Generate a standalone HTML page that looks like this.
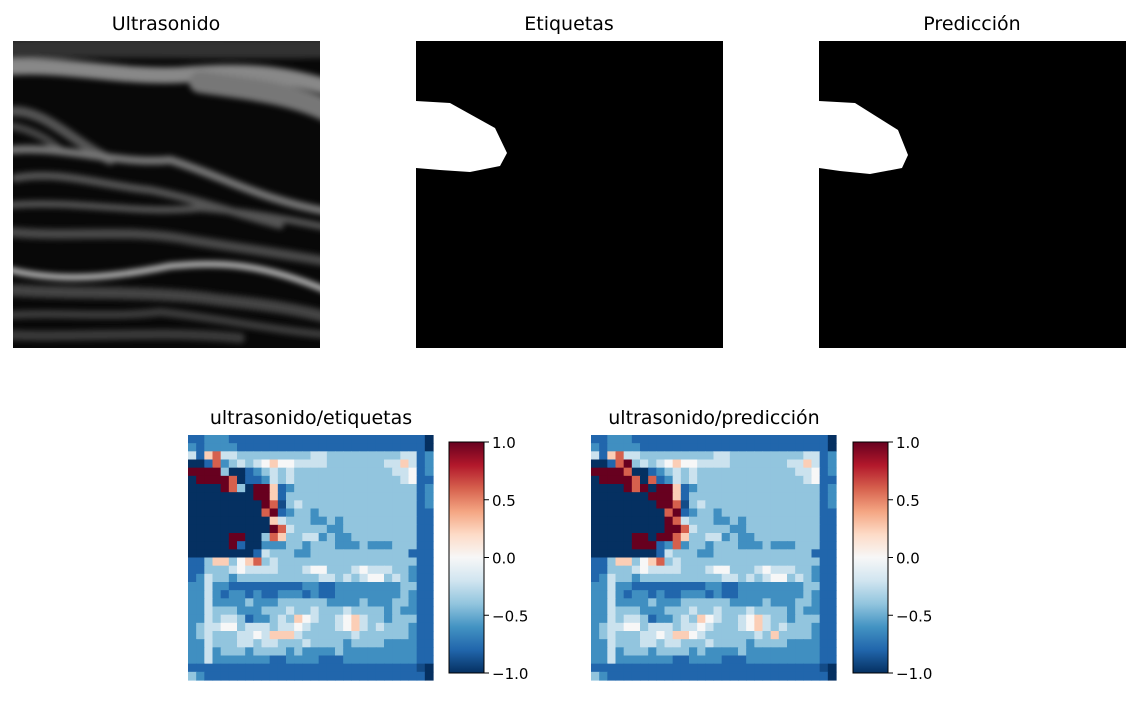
<!DOCTYPE html>
<html><head><meta charset="utf-8"><style>
body{margin:0;background:#fff;width:1139px;height:724px;overflow:hidden;font-family:"DejaVu Sans","Liberation Sans",sans-serif;}
svg{position:absolute;left:0;top:0}
</style></head><body>
<svg id="fig" width="1139" height="724" xmlns="http://www.w3.org/2000/svg">
<defs>
<filter id="blur" x="-10%" y="-10%" width="120%" height="120%"><feGaussianBlur stdDeviation="3"/></filter>
<clipPath id="usclip"><rect x="13" y="41" width="307" height="307"/></clipPath>
<linearGradient id="rdbu" x1="0" y1="1" x2="0" y2="0">
<stop offset="0" stop-color="#053061"/><stop offset="0.1" stop-color="#2166ac"/><stop offset="0.2" stop-color="#4393c3"/><stop offset="0.3" stop-color="#92c5de"/><stop offset="0.4" stop-color="#d1e5f0"/><stop offset="0.5" stop-color="#f7f7f7"/><stop offset="0.6" stop-color="#fddbc7"/><stop offset="0.7" stop-color="#f4a582"/><stop offset="0.8" stop-color="#d6604d"/><stop offset="0.9" stop-color="#b2182b"/><stop offset="1" stop-color="#67001f"/>
</linearGradient>
</defs>
<g>
<text x="166" y="30" font-size="19" text-anchor="middle">Ultrasonido</text>
<rect x="13" y="41" width="307" height="307" fill="#080808"/>
<g clip-path="url(#usclip)" filter="url(#blur)" fill="none" stroke-linecap="round">
<path d="M0 50 C80 45 200 50 330 48" stroke="#333" stroke-width="20"/>
<path d="M0 68 C60 62 120 78 180 75 C240 70 280 72 330 88" stroke="#888" stroke-width="16"/>
<path d="M200 82 C240 88 290 92 330 112" stroke="#777" stroke-width="22"/>
<path d="M5 112 C40 105 70 140 110 160" stroke="#555" stroke-width="10"/>
<path d="M5 125 C30 128 50 140 60 150" stroke="#444" stroke-width="8"/>
<path d="M10 150 C60 145 120 165 170 160 C220 175 260 200 330 212" stroke="#777" stroke-width="8"/>
<path d="M15 178 C60 170 100 185 150 190 C200 200 240 215 280 225" stroke="#555" stroke-width="8"/>
<path d="M10 205 C80 200 140 215 200 208 C250 212 290 220 330 228" stroke="#555" stroke-width="7"/>
<path d="M10 232 C70 238 130 228 190 240 C240 248 290 255 330 262" stroke="#4a4a4a" stroke-width="10"/>
<path d="M10 270 C60 282 110 278 170 266 C220 262 260 262 330 292" stroke="#bbb" stroke-width="6"/>
<path d="M10 290 C80 295 150 290 220 300 C270 305 300 310 330 318" stroke="#444" stroke-width="12"/>
<path d="M10 315 C60 312 110 318 160 312 C220 318 270 330 330 335" stroke="#3c3c3c" stroke-width="8"/>
<path d="M10 335 C80 338 160 330 240 338" stroke="#3a3a3a" stroke-width="10"/>
</g>
</g>
<g>
<text x="569" y="30" font-size="19" text-anchor="middle">Etiquetas</text>
<rect x="416" y="41" width="307" height="307" fill="#000"/>
<polygon points="416,101 450,103 495,128 507,153 500,166 470,172 440,170 416,168" fill="#fff"/>
</g>
<g>
<text x="972" y="30" font-size="19" text-anchor="middle">Predicción</text>
<rect x="819" y="41" width="307" height="307" fill="#000"/>
<polygon points="819,101 855,103 898,130 908,155 902,168 870,174 840,171 819,168" fill="#fff"/>
</g>
<text x="311" y="424" font-size="19" text-anchor="middle">ultrasonido/etiquetas</text>
<text x="714" y="424" font-size="19" text-anchor="middle">ultrasonido/predicción</text>
<g id="hm1"></g>
<g id="hm2"></g>
<g id="cb1"></g>
<g id="cb2"></g>
</svg>
<script>
const levelCodes = {D:-1,B:-0.9,b:-0.8,m:-0.62,l:-0.4,L:-0.22,w:0,p:0.25,r:0.6,R:1};
const gridEtiquetas = [
"bbmmmbbbbbbbbbbbbbbbbbbbbbbbbD",
"mbmmmmbbbbbbbbbbbbbbbbbbbbbbbD",
"LbprLLlllllllllLLlllllllllLLbm",
"DDbrmlLlLwpwwLLLLlllllllLLpLbm",
"RRRRlDDbmlLlLllllllllllllLLwbm",
"DRRRRrDbbmLlLlllllllllllllLwbb",
"DDDDRrlDRRpbmlllllllllllllllbm",
"DDDDDDDDRRpbllllllllllllllllbm",
"DDDDDDDDDRrBlLllllllllllllllbm",
"DDDDDDDDDrRbmllmllllllllllllbb",
"DDDDDDDDDDpLlllmmlmlllllllllbb",
"DDDDDDDDDDRrLllllmmlllllllllbb",
"DDDDDRRDDlrpllLLmlmmllllllllbb",
"DDDDDRbDDmmmllmlllmmmlmmmlllbb",
"DDDDDDDDbLlllmmllllllllllllbbb",
"bblpplwprlLlllllllllllllllllbb",
"bblllLwLLLLlllLwwlllLwLLLllmbb",
"bmLllmllllllllllLLlLlLwwlLlmbb",
"mmLmmbbbbbbbbbmmbbmmmmmmmmllbb",
"mmLmbmmbmbbmmmbmbbmmmmmmmmlmbb",
"mmLmmmmlmmmllllllmmmmlmmmllmbb",
"mmLlllmmmlllLllLlllLllllmlmmbb",
"mmLlLLlbmmlLlpwLllLwpLllmlllbb",
"mlLLwwlLLLlLLwLlllLwpLlLlllmbb",
"mlLlllLLwLpppLllllllLllllllmbb",
"mmLlllLLlLLlllLllllmllllmmmmbb",
"mmLmlllmllllmlmmmmlmmmmmmmmmbb",
"mmLmmmmmmmbbmmmmbbbmmmmmmmmmbb",
"bbbbbbbbbbbbbbbbbbbbbbbbbbbbBD",
"lmbbbbbbbbbbbbbbbbbbbbbbbbbbbD"];
const gridPrediccion = [
"bbmmmbbbbbbbbbbbbbbbbbbbbbbbbD",
"mbmmmmbbbbbbbbbbbbbbbbbbbbbbbD",
"LbprLLlllllllllLLlllllllllLLbm",
"DDbrRlLlLwpwwLLLLlllllllLLpLbm",
"RRRRrDDbmlLlLllllllllllllLLwbm",
"DRRRRrDrbmLlLlllllllllllllLwbb",
"DDDDRrRDRRpbmlllllllllllllllbm",
"DDDDDDDRRRpbllllllllllllllllbm",
"DDDDDDDDRRrBlLllllllllllllllbm",
"DDDDDDDDDrRbmllmllllllllllllbb",
"DDDDDDDDDRrLlllmmlmlllllllllbb",
"DDDDDDDDDRRrLllllmmlllllllllbb",
"DDDDDRRDRRrpllLLmlmmllllllllbb",
"DDDDDRRRbmrmllmlllmmmlmmmlllbb",
"DDDDDDDDbLlllmmllllllllllllbbb",
"bblpplwprlLlllllllllllllllllbb",
"bblllLwLLLLlllLwwlllLwLLLllmbb",
"bmLllmllllllllllLLlLlLwwlLlmbb",
"mmLmmbbbbbbbbbmmbbmmmmmmmmllbb",
"mmLmbmmbmbbmmmbmbbmmmmmmmmlmbb",
"mmLmmmmlmmmllllllmmmmlmmmllmbb",
"mmLlllmmmlllLllLlllLllllmlmmbb",
"mmLlLLlbmmlLlpwLllLwpLllmlllbb",
"mlLLwwlLLLlLLwLlllLwpLlLlllmbb",
"mlLlllLLwLppwLllllllLlpllllmbb",
"mmLlllLLlLLlllLllllmllllmmmmbb",
"mmLmlllmllllmlmmmmlmmmmmmmmmbb",
"mmLmmmmmmmbbmmmmbbbmmmmmmmmmbb",
"bbbbbbbbbbbbbbbbbbbbbbbbbbbbBD",
"lmbbbbbbbbbbbbbbbbbbbbbbbbbbbD"];
const cbTicks = [1.0, 0.5, 0.0, -0.5, -1.0];
const cbTickLabels = ["1.0","0.5","0.0","\u22120.5","\u22121.0"];

const NS="http://www.w3.org/2000/svg";
const stops=[[-1,[5,48,97]],[-0.8,[33,102,172]],[-0.6,[67,147,195]],[-0.4,[146,197,222]],[-0.2,[209,229,240]],[0,[247,247,247]],[0.2,[253,219,199]],[0.4,[244,165,130]],[0.6,[214,96,77]],[0.8,[178,24,43]],[1,[103,0,31]]];
function cmap(v){v=Math.max(-1,Math.min(1,v));for(let i=0;i<stops.length-1;i++){const a=stops[i],b=stops[i+1];if(v<=b[0]){const t=(v-a[0])/(b[0]-a[0]);return 'rgb('+a[1].map((c,k)=>Math.round(c+(b[1][k]-c)*t)).join(',')+')';}}return 'rgb(103,0,31)';}
function drawHeat(gid,grid,x0,y0,size){
  const g=document.getElementById(gid);const n=grid.length;const cs=size/n;
  grid.forEach((row,r)=>{for(let c=0;c<n;c++){const ch=row[c]||row[row.length-1];
    const rect=document.createElementNS(NS,'rect');
    rect.setAttribute('x',(x0+c*cs).toFixed(2));rect.setAttribute('y',(y0+r*cs).toFixed(2));
    rect.setAttribute('width',(cs+0.6).toFixed(2));rect.setAttribute('height',(cs+0.6).toFixed(2));
    rect.setAttribute('fill',cmap(levelCodes[ch]));
    
    
    g.appendChild(rect);}});
}
function drawCB(gid,x,y0,w,h){
  const g=document.getElementById(gid);
  const r=document.createElementNS(NS,'rect');
  r.setAttribute('x',x);r.setAttribute('y',y0);r.setAttribute('width',w);r.setAttribute('height',h);
  r.setAttribute('fill','url(#rdbu)');r.setAttribute('stroke','#000');r.setAttribute('stroke-width','1');
  
  
  g.appendChild(r);
  cbTicks.forEach((v,i)=>{const y=y0+(1-(v+1)/2)*h;
    const l=document.createElementNS(NS,'line');
    l.setAttribute('x1',x+w);l.setAttribute('x2',x+w+5);l.setAttribute('y1',y);l.setAttribute('y2',y);l.setAttribute('stroke','#000');
    
    
    g.appendChild(l);
    const t=document.createElementNS(NS,'text');
    t.setAttribute('x',x+w+8);t.setAttribute('y',y+6);t.setAttribute('font-size','15');
    t.textContent=cbTickLabels[i];
    
    
    g.appendChild(t);});
}
drawHeat('hm1',gridEtiquetas,188,435,245);
drawHeat('hm2',gridPrediccion,591,435,245);
drawCB('cb1',449,442,35,231);
drawCB('cb2',853,442,35,231);
</script>
</body></html>
